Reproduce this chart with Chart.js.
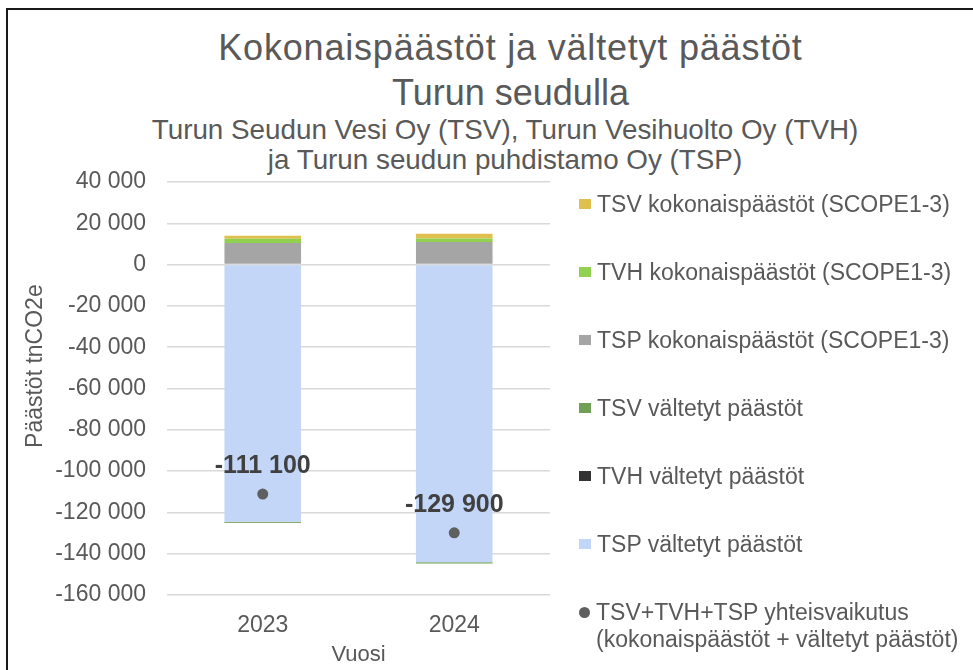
<!DOCTYPE html>
<html lang="fi">
<head>
<meta charset="utf-8">
<title>Kokonaispäästöt ja vältetyt päästöt Turun seudulla</title>
<script src="https://cdn.jsdelivr.net/npm/chart.js@4.4.1/dist/chart.umd.min.js"></script>
<style>
  html, body { margin: 0; padding: 0; background: #fff; overflow: hidden; }
  body { width: 973px; height: 670px; position: relative; font-family: "Liberation Sans", Arial, sans-serif; color: #595959; }
  #frame { position: absolute; left: 6px; top: 8px; width: 1100px; height: 800px; border: 2px solid #1a1a1a; }
  #chart { position: absolute; left: 0; top: 0; }
  #title { position: absolute; left: 0; width: 1021px; top: 25px; text-align: center; font-size: 36px; line-height: 45px; }
  #title .l1 { letter-spacing: 0.8px; }
  #subtitle { position: absolute; left: 0; width: 1010px; top: 115px; text-align: center; font-size: 27.8px; line-height: 30px; }
  #legend { position: absolute; left: 575px; top: 171px; }
  .item { position: absolute; left: 0; display: flex; align-items: flex-start; font-size: 23px; line-height: 27px; white-space: nowrap; }
  .swatch { width: 12px; height: 10px; margin: 8px 6px 0 4px; }
  .swatch.dot { width: 11px; height: 11px; border-radius: 50%; margin-top: 8px; }
</style>
</head>
<body>
<div id="frame"></div>
<div id="title"><span class="l1">Kokonaispäästöt ja vältetyt päästöt</span><br>Turun seudulla</div>
<div id="subtitle">Turun Seudun Vesi Oy (TSV), Turun Vesihuolto Oy (TVH)<br>ja Turun seudun puhdistamo Oy (TSP)</div>
<canvas id="chart" width="973" height="670"></canvas>
<div id="legend"></div>
<script>
// ===== Data (tnCO2e) =====
const years = ['2023', '2024'];
const tsvTotal = [1500, 2300];
const tvhTotal = [2000, 1600];
const tspTotal = [10500, 11000];
const tsvAvoided = [-500, -500];
const tvhAvoided = [-100, -100];
const tspAvoided = [-124500, -144200];
const netEffect = [-111100, -129900];
const yTicks = [40000, 20000, 0, -20000, -40000, -60000, -80000, -100000, -120000, -140000, -160000];

const colors = {
    tsvTotal: '#DFC04E',
    tvhTotal: '#92D050',
    tspTotal: '#A5A5A5',
    tsvAvoided: '#70A055',
    tvhAvoided: '#333333',
    tspAvoided: '#C3D6F8',
    net: '#5F5F5F',
    text: '#595959',
    grid: '#D9D9D9',
};
const fontFamily = "'Liberation Sans', Arial, sans-serif";

// 40 000 / -111 100 style numbers
const fmt = (v) => (v < 0 ? '-' : '') + Math.abs(v).toString().replace(/\B(?=(\d{3})+(?!\d))/g, ' ');

// stacking order: first dataset sits next to zero
const datasets = [
    { label: 'TSP kokonaispäästöt (SCOPE1-3)', data: tspTotal, backgroundColor: colors.tspTotal },
    { label: 'TVH kokonaispäästöt (SCOPE1-3)', data: tvhTotal, backgroundColor: colors.tvhTotal },
    { label: 'TSV kokonaispäästöt (SCOPE1-3)', data: tsvTotal, backgroundColor: colors.tsvTotal },
    { label: 'TSP vältetyt päästöt', data: tspAvoided, backgroundColor: colors.tspAvoided },
    { label: 'TSV vältetyt päästöt', data: tsvAvoided, backgroundColor: colors.tsvAvoided },
    { label: 'TVH vältetyt päästöt', data: tvhAvoided, backgroundColor: colors.tvhAvoided },
].map(d => ({ ...d, type: 'bar', stack: 'emissions', order: 1, borderWidth: 0, barPercentage: 1, categoryPercentage: 0.4 }));

// the dots go on top of the bars (lower order = drawn last)
datasets.push({
    type: 'line',
    label: 'TSV+TVH+TSP yhteisvaikutus\n(kokonaispäästöt + vältetyt päästöt)',
    data: netEffect,
    stack: 'net',
    order: 0,
    showLine: false,
    pointRadius: 5.5,
    pointBackgroundColor: colors.net,
    pointBorderWidth: 0,
    isNet: true,
});

// legend order as in the original
const legendOrder = [2, 1, 0, 4, 5, 3, 6];

const netLabels = {
    id: 'netLabels',
    afterDatasetsDraw(chart) {
        const { ctx } = chart;
        chart.data.datasets.forEach((ds, i) => {
            if (!ds.isNet) return;
            chart.getDatasetMeta(i).data.forEach((pt, j) => {
                ctx.save();
                ctx.font = `bold 25px ${fontFamily}`;
                ctx.fillStyle = '#404040';
                ctx.textAlign = 'center';
                ctx.textBaseline = 'middle';
                ctx.fillText(fmt(ds.data[j]), pt.x, pt.y - 28);
                ctx.restore();
            });
        });
    }
};

const chart = new Chart(document.getElementById('chart'), {
    data: { labels: years, datasets },
    options: {
        responsive: false,
        animation: false,
        layout: { padding: { top: 182, right: 423, bottom: 0, left: 0 } },
        plugins: {
            legend: { display: false },
            tooltip: { enabled: false },
        },
        scales: {
            x: {
                stacked: true,
                grid: { display: false, drawTicks: false },
                border: { display: false },
                ticks: { color: colors.text, font: { family: fontFamily, size: 23 }, padding: 17 },
                title: { display: true, text: 'Vuosi', color: colors.text, font: { family: fontFamily, size: 22 }, padding: { top: 0, bottom: 2 } },
                afterFit: (scale) => { scale.height = 75; },
            },
            y: {
                stacked: true,
                min: -160000,
                max: 40000,
                afterBuildTicks: (scale) => { scale.ticks = yTicks.map(v => ({ value: v })); },
                grid: { color: colors.grid, lineWidth: 1.5, drawTicks: false },
                border: { display: false },
                ticks: { color: colors.text, font: { family: fontFamily, size: 23 }, padding: 21, callback: (v) => fmt(v) },
                // leading spaces lift the title a bit above the plot centre, as in the original
                title: { display: true, text: '       Päästöt tnCO2e', color: colors.text, font: { family: fontFamily, size: 23 }, padding: { top: 22, bottom: 0 } },
                afterFit: (scale) => { scale.width = 167; },
            },
        },
    },
    plugins: [netLabels],
});

// ===== HTML legend built from the datasets =====
const legendEl = document.getElementById('legend');
legendOrder.forEach((idx, n) => {
    const ds = chart.data.datasets[idx];
    const item = document.createElement('div');
    item.className = 'item';
    item.style.top = (n * 68 + 20) + 'px';
    const sw = document.createElement('span');
    sw.className = ds.isNet ? 'swatch dot' : 'swatch';
    sw.style.background = ds.isNet ? ds.pointBackgroundColor : ds.backgroundColor;
    const txt = document.createElement('span');
    txt.innerHTML = ds.label.split('\n').join('<br>');
    item.appendChild(sw);
    item.appendChild(txt);
    legendEl.appendChild(item);
});
</script>
</body>
</html>
